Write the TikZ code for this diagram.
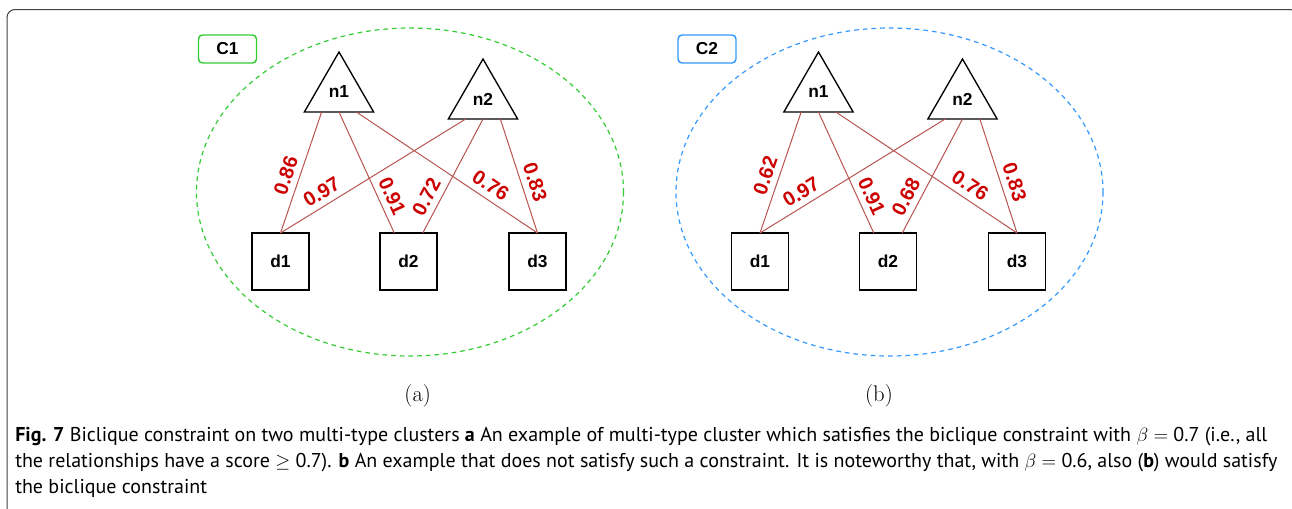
\documentclass[tikz,border=0pt]{standalone}
\usepackage{fontspec}
\setsansfont{Liberation Sans}
\newfontfamily\capfont{PT Sans}
\usetikzlibrary{shapes.geometric,calc}
\definecolor{edgered}{HTML}{B85450}
\definecolor{labelred}{HTML}{CC0000}
\definecolor{cgreen}{HTML}{33CC33}
\definecolor{cblue}{HTML}{3399FF}
\begin{document}
\begin{tikzpicture}[x=0.75pt,y=-0.75pt,
  every node/.style={font=\sffamily\bfseries\fontsize{13pt}{15pt}\selectfont},
  tri/.style={draw,line width=1pt,regular polygon,regular polygon sides=3,minimum size=60pt,inner sep=0pt,outer sep=0pt},
  doc/.style={draw,line width=1pt,minimum size=42.75pt,inner sep=0pt,outer sep=0pt},
  tag/.style={draw,line width=1.1pt,rounded corners=3pt,minimum width=43.5pt,minimum height=21pt},
  link/.style={draw=edgered,line width=0.75pt},
  score/.style={sloped,above=3.5pt,inner sep=1pt,text=labelred,font=\sffamily\bfseries\fontsize{15pt}{17pt}\selectfont}]
\useasboundingbox (0,0) rectangle (1292,508);
\draw[black!75,line width=0.75pt,rounded corners=6pt] (7,520) -- (7,9.5) -- (1298,9.5) -- (1298,520);
% (a) cluster C1
\draw[cgreen,dash pattern=on 3.5pt off 3pt,line width=0.9pt] (410,192) ellipse [x radius=213.5, y radius=164];
\node[tag,draw=cgreen] (c1) at (227.5,49) {C1};
\node[tri] (n1a) at (339,92) {n1};
\node[tri] (n2a) at (483,99) {n2};
\node[doc] (d1a) at (280.5,261.5) {d1};
\node[doc] (d2a) at (408.5,261.5) {d2};
\node[doc] (d3a) at (537.5,261.5) {d3};
\draw[link] ($(n1a.corner 2)!.25!(n1a.corner 3)$) -- node[score,pos=.56] {0.86} (d1a.north);
\draw[link] (n1a.south) -- node[score,pos=.74] {0.91} ($(d2a.north west)!.25!(d2a.north east)$);
\draw[link] ($(n1a.corner 2)!.75!(n1a.corner 3)$) -- node[score,pos=.70] {0.76} (d3a.north);
\draw[link] ($(n2a.corner 2)!.25!(n2a.corner 3)$) -- node[score,pos=.74] {0.97} (d1a.north);
\draw[link] (n2a.south) -- node[score,pos=.74] {0.72} ($(d2a.north west)!.75!(d2a.north east)$);
\draw[link] ($(n2a.corner 2)!.75!(n2a.corner 3)$) -- node[score,pos=.59] {0.83} (d3a.north);
\node[font=\fontsize{17pt}{20pt}\selectfont] (capa) at (417.7,396) {(a)};
% (b) cluster C2
\draw[cblue,dash pattern=on 3.5pt off 3pt,line width=0.9pt] (889.5,192) ellipse [x radius=213.5, y radius=164];
\node[tag,draw=cblue] (c2) at (707,49) {C2};
\node[tri] (n1b) at (818.5,92) {n1};
\node[tri] (n2b) at (962.5,99) {n2};
\node[doc] (d1b) at (760,261.5) {d1};
\node[doc] (d2b) at (888,261.5) {d2};
\node[doc] (d3b) at (1017,261.5) {d3};
\draw[link] ($(n1b.corner 2)!.25!(n1b.corner 3)$) -- node[score,pos=.56] {0.62} (d1b.north);
\draw[link] (n1b.south) -- node[score,pos=.74] {0.91} ($(d2b.north west)!.25!(d2b.north east)$);
\draw[link] ($(n1b.corner 2)!.75!(n1b.corner 3)$) -- node[score,pos=.70] {0.76} (d3b.north);
\draw[link] ($(n2b.corner 2)!.25!(n2b.corner 3)$) -- node[score,pos=.74] {0.97} (d1b.north);
\draw[link] (n2b.south) -- node[score,pos=.74] {0.68} ($(d2b.north west)!.75!(d2b.north east)$);
\draw[link] ($(n2b.corner 2)!.75!(n2b.corner 3)$) -- node[score,pos=.59] {0.83} (d3b.north);
\node[font=\fontsize{17pt}{20pt}\selectfont] (capb) at (879,396) {(b)};
% caption
\node[anchor=north west,align=left,inner sep=0pt,font=\capfont\fontsize{15pt}{19.5pt}\selectfont] (cap) at (15,427)
{\textbf{Fig. 7} Biclique constraint on two multi-type clusters \textbf{a} An example of multi-type cluster which satisfies the biclique constraint with $\beta =$ 0.7 (i.e., all\\
the relationships have a score $\geq$ 0.7). \textbf{b} An example that does not satisfy such a constraint. It is noteworthy that, with $\beta =$ 0.6, also (\textbf{b}) would satisfy\\
the biclique constraint};
\end{tikzpicture}
\end{document}
